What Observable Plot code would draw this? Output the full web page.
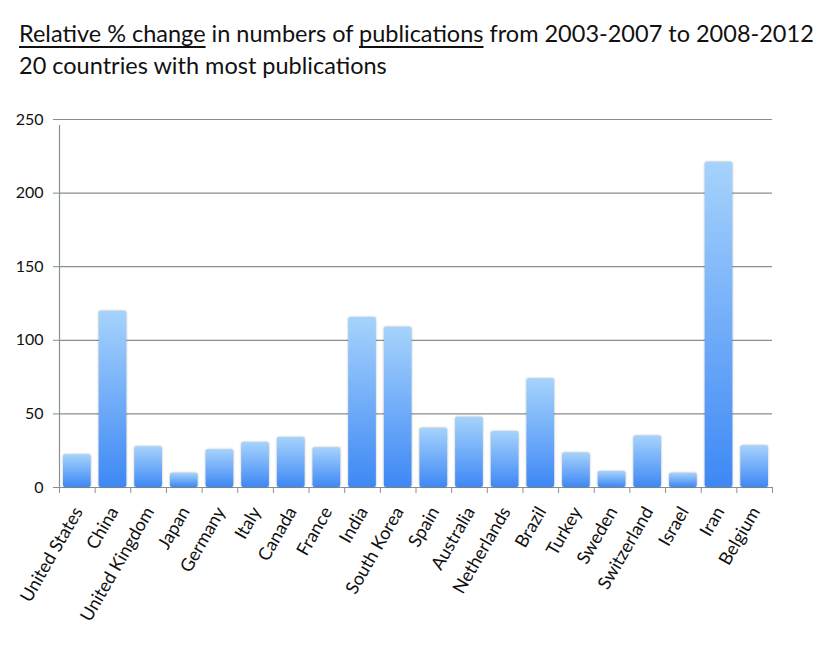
<!DOCTYPE html>
<html><head><meta charset="utf-8">
<script src="https://cdn.jsdelivr.net/npm/d3@7"></script>
<script src="https://cdn.jsdelivr.net/npm/@observablehq/plot@0.6"></script>
<style>
body{margin:0;background:#fff;font-family:Lato,sans-serif;}
#title{height:100px;box-sizing:border-box;padding:17px 0 0 19px;font-size:23.5px;line-height:32px;color:#111;white-space:nowrap;}
#title u{text-decoration-thickness:1.5px;text-underline-offset:4px;}
#chart svg{display:block;}
</style></head><body>
<div id="title"><div><u>Relative % change</u> in numbers of <u>publications</u> from 2003-2007 to 2008-2012</div><div>20 countries with most publications</div></div>
<div id="chart"></div>
<script>
const countries = ["United States","China","United Kingdom","Japan","Germany","Italy","Canada","France","India","South Korea","Spain","Australia","Netherlands","Brazil","Turkey","Sweden","Switzerland","Israel","Iran","Belgium"];
const changes = [22.3,119.8,27.7,9.6,25.7,30.5,33.9,27,115.5,108.9,40.2,47.7,38,73.9,23.4,10.9,35,9.6,221,28.4];
const yTicks = [0,50,100,150,200,250];

const data = countries.map((c,i)=>({country:c, change:changes[i]}));
const W=834, H=554, mL=59, mR=62;
const step = (W-mL-mR)/countries.length;
const grid = "#86918f";

const plot = Plot.plot({
  width:W, height:H, marginTop:19, marginBottom:167, marginLeft:mL, marginRight:mR,
  style:{fontFamily:"Lato, sans-serif", fontSize:"16px", background:"#fff", color:"#111"},
  x:{domain:countries, padding:0, round:false, label:null},
  y:{domain:[0,250], label:null},
  marks:[
    Plot.ruleY(yTicks,{stroke:grid, strokeWidth:1.2}),
    Plot.ruleX([countries[0]],{dx:-step/2, y1:0, y2:250, insetBottom:-6, stroke:grid, strokeWidth:1.2}),
    Plot.ruleX(countries,{dx:-step/2, y1:0, y2:0, insetBottom:-6, stroke:grid}),
    Plot.ruleX([countries[countries.length-1]],{dx:step/2, y1:0, y2:0, insetBottom:-6, stroke:grid}),
    Plot.barY(data,{x:"country", y:"change", fill:"url(#barGrad)", insetLeft:4, insetRight:4, rx:2}),
    Plot.axisY({ticks:yTicks, tickSize:6, tickPadding:10, stroke:grid, fontSize:16, label:null}),
    Plot.axisX({tickSize:0, tickRotate:-60, tickPadding:21, dx:1, fontSize:18, label:null})
  ]
});

const svg = d3.select(plot);
const defs = svg.insert("defs", ":first-child");
const g = defs.append("linearGradient").attr("id","barGrad").attr("x1",0).attr("y1",0).attr("x2",0).attr("y2",1);
g.append("stop").attr("offset","0%").attr("stop-color","#a6d3fc");
g.append("stop").attr("offset","100%").attr("stop-color","#3e88f5");
svg.selectAll('g[aria-label="bar"]').style("filter","drop-shadow(0.5px 0px 1px rgba(0,0,0,0.28))");
document.getElementById("chart").appendChild(plot);
</script>
</body></html>
